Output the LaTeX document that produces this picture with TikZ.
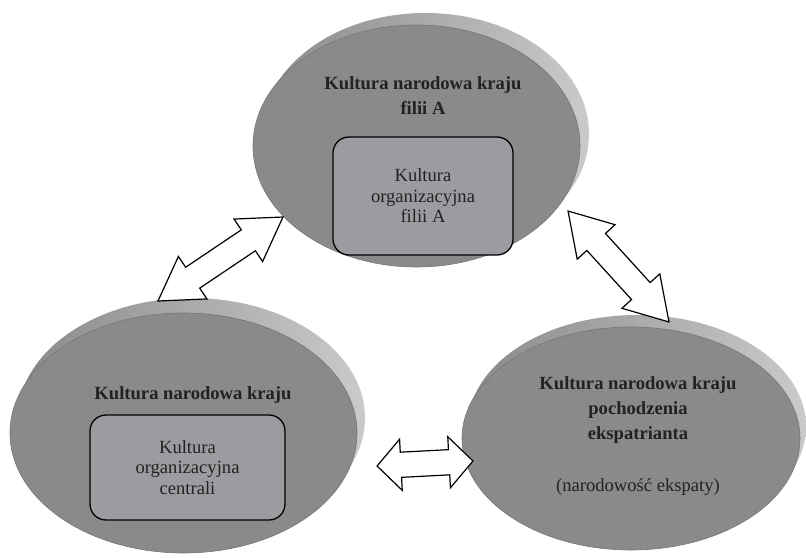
\documentclass[tikz,border=0pt]{standalone}
\usepackage{fontspec}
\setmainfont{Liberation Serif}
\usetikzlibrary{shapes.geometric,shapes.arrows}
\definecolor{discfill}{HTML}{8A8A8A}
\definecolor{rimlight}{HTML}{CACACA}
\definecolor{boxfill}{HTML}{9C9CA0}
\definecolor{inktext}{HTML}{222222}

\begin{document}
\begin{tikzpicture}
  [x=1pt, y=-1pt,
   disc/.style={ellipse, fill=discfill, draw=discfill!85!black, line width=0.6pt, inner sep=0pt},
   rim/.style={ellipse, left color=discfill, right color=rimlight, inner sep=0pt},
   orgbox/.style={rectangle, rounded corners=16pt, draw=black, line width=1.3pt, fill=boxfill,
     inner sep=0pt, text=inktext, align=center, font=\fontsize{18.6}{20.5}\selectfont},
   title/.style={align=center, text=inktext, font=\fontsize{18.6}{25}\selectfont\bfseries},
   link/.style={double arrow, draw=black, fill=white, line width=1.2pt, inner xsep=0pt,
     inner ysep=12pt, minimum width=0pt, double arrow head extend=13pt}]
  \useasboundingbox (0,0) rectangle (806,557);
  % raised rims behind the discs
  \node[rim, minimum width=327pt, minimum height=242pt] (filiaRim) at (425.5,134) {};
  \node[rim, minimum width=347pt, minimum height=240pt] (centralaRim) at (191.5,418) {};
  \node[rim, minimum width=338pt, minimum height=223pt] (ekspatRim) at (637,426.5) {};
  % discs
  \node[disc, minimum width=327pt, minimum height=242pt] (filia) at (416.5,146) {};
  \node[disc, minimum width=347pt, minimum height=240pt] (centrala) at (183.5,433) {};
  \node[disc, minimum width=338pt, minimum height=223pt] (ekspat) at (631,438.5) {};
  % texts
  \node[title] (filiaTitle) at (423,96) {Kultura narodowa kraju\\filii A};
  \node[orgbox, minimum width=180pt, minimum height=118pt] (filiaOrg) at (423,196)
    {Kultura\\organizacyjna\\filii A};
  \node[title] (centralaTitle) at (193,395) {Kultura narodowa kraju};
  \node[orgbox, minimum width=195pt, minimum height=105pt] (centralaOrg) at (187.5,467.5)
    {Kultura\\organizacyjna\\centrali};
  \node[title] (ekspatTitle) at (638,436)
    {Kultura narodowa kraju\\pochodzenia\\ekspatrianta\\[27pt]\mdseries (narodowość ekspaty)};
  % two-way links
  \node[link, minimum height=150.6pt, double arrow tip angle=63, rotate=33.9] (linkCF) at (220.5,259) {};
  \node[link, minimum height=150pt, double arrow tip angle=63, rotate=-47.7] (linkFE) at (618.5,266.5) {};
  \node[link, minimum height=96pt, double arrow tip angle=94, rotate=3] (linkCE) at (425,463.5) {};
\end{tikzpicture}
\end{document}
